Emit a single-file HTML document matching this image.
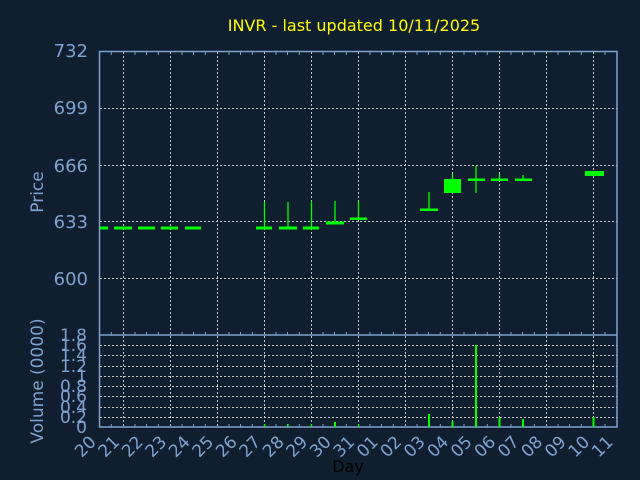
<!DOCTYPE html>
<html><head><meta charset="utf-8"><style>
html,body{margin:0;padding:0;background:#0f1f2f;}
svg{display:block;font-family:"DejaVu Sans","Liberation Sans",sans-serif;}
</style></head><body>
<svg width="640" height="480" viewBox="0 0 640 480">
<rect width="640" height="480" fill="#0f1f2f"/>
<text x="354" y="31" fill="#ffff00" font-size="16" text-anchor="middle">INVR - last updated 10/11/2025</text>
<g stroke="#c8c8c8" stroke-width="1" stroke-dasharray="2,2">
<line x1="100" y1="108.5" x2="617" y2="108.5"/>
<line x1="100" y1="165.5" x2="617" y2="165.5"/>
<line x1="100" y1="221.5" x2="617" y2="221.5"/>
<line x1="100" y1="278.5" x2="617" y2="278.5"/>
<line x1="100" y1="345.5" x2="617" y2="345.5"/>
<line x1="100" y1="355.5" x2="617" y2="355.5"/>
<line x1="100" y1="366.5" x2="617" y2="366.5"/>
<line x1="100" y1="376.5" x2="617" y2="376.5"/>
<line x1="100" y1="386.5" x2="617" y2="386.5"/>
<line x1="100" y1="396.5" x2="617" y2="396.5"/>
<line x1="100" y1="407.5" x2="617" y2="407.5"/>
<line x1="100" y1="417.5" x2="617" y2="417.5"/>
<path d="M123.5 52V427M170.5 52V427M217.5 52V427M264.5 52V427M311.5 52V427M358.5 52V427M405.5 52V427M452.5 52V427M499.5 52V427M546.5 52V427M593.5 52V427"/>
</g>
<g stroke="#7fa2cc" stroke-width="1.5" fill="none">
<rect x="99.5" y="51.5" width="517.5" height="375.5"/>
<line x1="99.5" y1="335" x2="617" y2="335"/>
</g>
<g stroke="#7fa2cc" stroke-width="1">
<path d="M111.3 52v3M135 52v3M146.5 52v3M158.3 52v3M182 52v3M193.5 52v3M205.3 52v3M229 52v3M240.5 52v3M252.3 52v3M276 52v3M287.5 52v3M299.3 52v3M323 52v3M334.5 52v3M346.3 52v3M370 52v3M381.5 52v3M393.3 52v3M417 52v3M428.5 52v3M440.3 52v3M464 52v3M475.5 52v3M487.3 52v3M511 52v3M522.5 52v3M534.3 52v3M558 52v3M569.5 52v3M581.3 52v3M605 52v3"/>
<path d="M111.3 427v-3M135 427v-3M146.5 427v-3M158.3 427v-3M182 427v-3M193.5 427v-3M205.3 427v-3M229 427v-3M240.5 427v-3M252.3 427v-3M276 427v-3M287.5 427v-3M299.3 427v-3M323 427v-3M334.5 427v-3M346.3 427v-3M370 427v-3M381.5 427v-3M393.3 427v-3M417 427v-3M428.5 427v-3M440.3 427v-3M464 427v-3M475.5 427v-3M487.3 427v-3M511 427v-3M522.5 427v-3M534.3 427v-3M558 427v-3M569.5 427v-3M581.3 427v-3M605 427v-3"/>
<path d="M111.3 335v-3M135 335v-3M146.5 335v-3M158.3 335v-3M182 335v-3M193.5 335v-3M205.3 335v-3M229 335v-3M240.5 335v-3M252.3 335v-3M276 335v-3M287.5 335v-3M299.3 335v-3M323 335v-3M334.5 335v-3M346.3 335v-3M370 335v-3M381.5 335v-3M393.3 335v-3M417 335v-3M428.5 335v-3M440.3 335v-3M464 335v-3M475.5 335v-3M487.3 335v-3M511 335v-3M522.5 335v-3M534.3 335v-3M558 335v-3M569.5 335v-3M581.3 335v-3M605 335v-3"/>
</g>
<g fill="#00ff00" stroke="none">
<rect x="100" y="226.5" width="8" height="3"/>
<rect x="114" y="226.5" width="18" height="3"/>
<rect x="138" y="226.5" width="17" height="3"/>
<rect x="161" y="226.5" width="17" height="3"/>
<rect x="185" y="226.5" width="16" height="3"/>
<rect x="256" y="226.5" width="16" height="3"/>
<rect x="279" y="226.5" width="18" height="3"/>
<rect x="303" y="226.5" width="16" height="3"/>
<rect x="326" y="221.5" width="18" height="3"/>
<rect x="350" y="217.5" width="17" height="2.5"/>
<rect x="420" y="208.5" width="18" height="2.5"/>
<rect x="444" y="179" width="17" height="14"/>
<rect x="468" y="178.5" width="17" height="2.5"/>
<rect x="491" y="178.5" width="17" height="2.5"/>
<rect x="515" y="178.5" width="17" height="2.5"/>
<rect x="585" y="171" width="19" height="5"/>
</g>
<g stroke="#00ff00" stroke-width="1.3">
<path d="M264.5 202V228M288 202V228M311.5 201V228M335 201V223M358.5 201V219M429 192V210M452.5 174V180M476 166V193M499.5 174V180M523 175V180"/>
<path d="M264.5 427V424M288 427V424M311.5 427V424M358.5 427V424"/>
</g>
<g stroke="#00ff00" stroke-width="2">
<path d="M335 427V422M429 427V414M452.5 427V421.5M476 427V345M499.5 427V417.5M523 427V419M593.5 427V417"/>
</g>
<g fill="#7fa2cc" font-size="18" text-anchor="end">
<text x="88" y="57">732</text>
<text x="88" y="114">699</text>
<text x="88" y="172">666</text>
<text x="88" y="228">633</text>
<text x="88" y="285">600</text>
</g>
<g fill="#7fa2cc" font-size="17" text-anchor="end">
<text x="87" y="341">1.8</text>
<text x="87" y="351">1.6</text>
<text x="87" y="361">1.4</text>
<text x="87" y="372">1.2</text>
<text x="87" y="382">1</text>
<text x="87" y="392">0.8</text>
<text x="87" y="402">0.6</text>
<text x="87" y="413">0.4</text>
<text x="87" y="423">0.2</text>
<text x="87" y="433">0</text>
</g>
<text transform="translate(43,192) rotate(-90)" fill="#7fa2cc" font-size="17" text-anchor="middle">Price</text>
<text transform="translate(43,381) rotate(-90)" fill="#7fa2cc" font-size="17" text-anchor="middle">Volume (0000)</text>
<g fill="#7fa2cc" font-size="17" text-anchor="end">
<text transform="translate(97,443) rotate(-45)">20</text>
<text transform="translate(120.5,443) rotate(-45)">21</text>
<text transform="translate(144,443) rotate(-45)">22</text>
<text transform="translate(167.5,443) rotate(-45)">23</text>
<text transform="translate(191,443) rotate(-45)">24</text>
<text transform="translate(214.5,443) rotate(-45)">25</text>
<text transform="translate(238,443) rotate(-45)">26</text>
<text transform="translate(261.5,443) rotate(-45)">27</text>
<text transform="translate(285,443) rotate(-45)">28</text>
<text transform="translate(308.5,443) rotate(-45)">29</text>
<text transform="translate(332,443) rotate(-45)">30</text>
<text transform="translate(355.5,443) rotate(-45)">31</text>
<text transform="translate(379,443) rotate(-45)">01</text>
<text transform="translate(402.5,443) rotate(-45)">02</text>
<text transform="translate(426,443) rotate(-45)">03</text>
<text transform="translate(449.5,443) rotate(-45)">04</text>
<text transform="translate(473,443) rotate(-45)">05</text>
<text transform="translate(496.5,443) rotate(-45)">06</text>
<text transform="translate(520,443) rotate(-45)">07</text>
<text transform="translate(543.5,443) rotate(-45)">08</text>
<text transform="translate(567,443) rotate(-45)">09</text>
<text transform="translate(590.5,443) rotate(-45)">10</text>
<text transform="translate(614,443) rotate(-45)">11</text>
</g>
<text x="348" y="472" fill="#000000" font-size="16" text-anchor="middle">Day</text>
</svg>
</body></html>
